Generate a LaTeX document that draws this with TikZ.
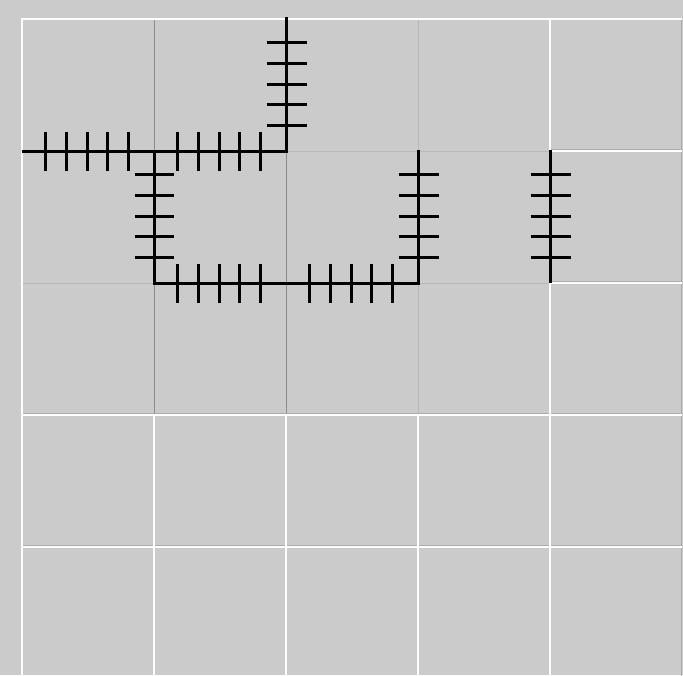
\documentclass[tikz,border=0pt]{standalone}
\begin{document}
\begin{tikzpicture}[x=1pt,y=-1pt,
  wire/.style={line width=3pt,black},
  tk/.style={line width=3pt,black},
  hil/.style={draw=white,line width=2pt},
  shd/.style={draw=black!33,line width=1pt},
  gdark/.style={draw=black!45,line width=0.9pt},
  glight/.style={draw=black!33,line width=0.8pt},
  gvlight/.style={draw=black!28,line width=0.8pt}]
\definecolor{bgc}{HTML}{CBCBCB}
\fill[bgc] (0,0) rectangle (683,675);
\useasboundingbox (0,0) rectangle (683,675);
% tiles
\foreach \xa/\ya/\xb/\yb in {22/19/550/415, 550/19/682/151, 550/151/682/283, 550/283/682/415,
  22/415/154/547, 154/415/286/547, 286/415/418/547, 418/415/550/547, 550/415/682/547,
  22/547/154/679, 154/547/286/679, 286/547/418/679, 418/547/550/679, 550/547/682/679} {
  \draw[shd] (\xa,\yb-2) -- (\xb-1,\yb-2) -- (\xb-1,\ya);
  \draw[hil] (\xa,\yb) -- (\xa,\ya) -- (\xb,\ya);
}
% inner grid of the large tile
\draw[gdark] (154,20) -- (154,413);
\draw[gdark] (286,20) -- (286,413);
\draw[gvlight] (418,20) -- (418,413);
\draw[gvlight] (23,151) -- (549,151);
\draw[gvlight] (23,283) -- (549,283);
% wires
\coordinate (p1) at (22,151);
\coordinate (p2) at (154,151);
\coordinate (p3) at (286,151);
\coordinate (p4) at (286,17);
\coordinate (q2) at (154,283);
\coordinate (q3) at (418,283);
\coordinate (q4) at (418,150);
\coordinate (r1) at (550,150);
\coordinate (r2) at (550,283);
\draw[wire] (p1) -- (p3) -- (p4);
\draw[wire] (p2) -- (q2) -- (q3) -- (q4);
\draw[wire] (r1) -- (r2);
% ticks
\foreach \t in {23.5,44.5,65,85.5,106} {
  % horizontal segments
  \draw[tk] (22+\t,131.5) -- (22+\t,170.5);
  \draw[tk] (154+\t,131.5) -- (154+\t,170.5);
  \draw[tk] (154+\t,263.5) -- (154+\t,302.5);
  \draw[tk] (286+\t,263.5) -- (286+\t,302.5);
  % vertical segments
  \draw[tk] (266.5,19+\t) -- (306.5,19+\t);
  \draw[tk] (134.5,151+\t) -- (173.5,151+\t);
  \draw[tk] (398.5,151+\t) -- (438.5,151+\t);
  \draw[tk] (530.5,151+\t) -- (570.5,151+\t);
}
\end{tikzpicture}
\end{document}
